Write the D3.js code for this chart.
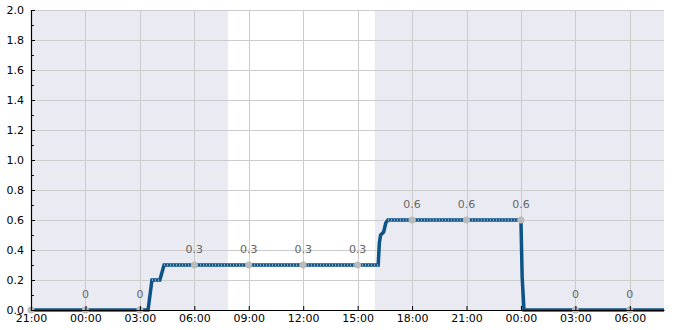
<!DOCTYPE html>
<html>
<head>
<meta charset="utf-8">
<script src="https://cdn.jsdelivr.net/npm/d3@7"></script>
<style>
  body { margin: 0; background: #fff; }
  text { font-family: "DejaVu Sans", sans-serif; }
</style>
</head>
<body>
<div id="chart"></div>
<script>
// time window of the chart
let startTime = "2024-01-01 21:00"
let endTime = "2024-01-03 07:53"

// night shading (grey) bands
let nightStart = ["2024-01-01 21:00", "2024-01-02 15:57"]
let nightEnd = ["2024-01-02 07:51", "2024-01-03 07:53"]

// the stepped series
let seriesTime = [
  "2024-01-01 21:00", "2024-01-02 03:27", "2024-01-02 03:40", "2024-01-02 04:06",
  "2024-01-02 04:20", "2024-01-02 16:08", "2024-01-02 16:12", "2024-01-02 16:16",
  "2024-01-02 16:26", "2024-01-02 16:33", "2024-01-02 16:40", "2024-01-03 00:00",
  "2024-01-03 00:04", "2024-01-03 00:10", "2024-01-03 07:53"
]
let seriesValue = [0, 0, 0.2, 0.2, 0.3, 0.3, 0.45, 0.5, 0.52, 0.58, 0.6, 0.6, 0.22, 0, 0]

// 3-hourly markers and their labels
let markerTime = [
  "2024-01-01 21:00", "2024-01-02 00:00", "2024-01-02 03:00", "2024-01-02 06:00",
  "2024-01-02 09:00", "2024-01-02 12:00", "2024-01-02 15:00", "2024-01-02 18:00",
  "2024-01-02 21:00", "2024-01-03 00:00", "2024-01-03 03:00", "2024-01-03 06:00"
]
let markerValue = [0, 0, 0, 0.3, 0.3, 0.3, 0.3, 0.6, 0.6, 0.6, 0, 0]
let markerLabel = ["", "0", "0", "0.3", "0.3", "0.3", "0.3", "0.6", "0.6", "0.6", "0", "0"]

let yTicks = [0, 0.2, 0.4, 0.6, 0.8, 1.0, 1.2, 1.4, 1.6, 1.8, 2.0]

let parse = d3.timeParse("%Y-%m-%d %H:%M")

let margin = {top: 10, right: 21, bottom: 20, left: 31},
    width = 685 - margin.left - margin.right,
    height = 330 - margin.top - margin.bottom

let svg = d3.select("#chart")
  .append("svg")
    .attr("width", 685)
    .attr("height", 330)
  .append("g")
    .attr("transform", "translate(" + margin.left + "," + margin.top + ")")

let x = d3.scaleTime()
  .domain([parse(startTime), parse(endTime)])
  .range([0, width])

let y = d3.scaleLinear()
  .domain([0, 2])
  .range([height, 0])

// night bands
svg.selectAll(".night")
  .data(nightStart)
  .enter()
  .append("rect")
  .attr("x", function(d) { return x(parse(d)) })
  .attr("width", function(d, i) { return x(parse(nightEnd[i])) - x(parse(d)) })
  .attr("y", 0)
  .attr("height", height)
  .attr("fill", "#eaeaf2")

// grid
let xTicks = x.ticks(d3.timeHour.every(3))
svg.selectAll(".vgrid")
  .data(xTicks)
  .enter()
  .append("line")
  .attr("x1", function(d) { return Math.round(x(d)) + 0.5 })
  .attr("x2", function(d) { return Math.round(x(d)) + 0.5 })
  .attr("y1", 0)
  .attr("y2", height)
  .attr("stroke", "#cccccc")
  .attr("stroke-width", 1)

svg.selectAll(".hgrid")
  .data(yTicks)
  .enter()
  .append("line")
  .attr("x1", 0)
  .attr("x2", width)
  .attr("y1", function(d) { return Math.round(y(d)) + 0.5 })
  .attr("y2", function(d) { return Math.round(y(d)) + 0.5 })
  .attr("stroke", "#cccccc")
  .attr("stroke-width", 1)

// series line
let points = seriesTime.map(function(t, i) { return {x: parse(t), y: seriesValue[i]} })
let line = d3.line()
  .x(function(d) { return x(d.x) })
  .y(function(d) { return y(d.y) })

svg.append("path")
  .datum(points)
  .attr("fill", "none")
  .attr("stroke", "#0d5486")
  .attr("stroke-width", 3.5)
  .attr("d", line)

// white dots along the flat non-zero stretches
let flats = []
for (let i = 1; i < points.length; i++) {
  if (points[i].y == points[i-1].y && points[i].y > 0) {
    flats.push([points[i-1], points[i]])
  }
}
svg.selectAll(".dots")
  .data(flats)
  .enter()
  .append("path")
  .attr("fill", "none")
  .attr("stroke", "#ffffff")
  .attr("stroke-width", 1)
  .attr("stroke-dasharray", "1,2")
  .attr("d", line)

// grey markers
svg.selectAll(".marker")
  .data(markerTime)
  .enter()
  .append("circle")
  .attr("cx", function(d) { return x(parse(d)) })
  .attr("cy", function(d, i) { return y(markerValue[i]) })
  .attr("r", 3.5)
  .attr("fill", "#bbbbbb")

svg.selectAll(".mlabel")
  .data(markerTime)
  .enter()
  .append("text")
  .attr("x", function(d) { return x(parse(d)) })
  .attr("y", function(d, i) { return y(markerValue[i]) - 12 })
  .attr("text-anchor", "middle")
  .attr("font-size", "11px")
  .attr("fill", "#666666")
  .text(function(d, i) { return markerLabel[i] })

// axes
let yAxis = svg.append("g")
  .call(d3.axisLeft(y).tickValues(yTicks).tickFormat(d3.format(".1f")).tickSizeInner(-4).tickSizeOuter(0).tickPadding(7))
let yMinor = svg.append("g")
  .call(d3.axisLeft(y).tickValues(d3.range(0.1, 2, 0.2)).tickFormat("").tickSizeInner(-3).tickSizeOuter(0))
yMinor.select(".domain").remove()

let xAxis = svg.append("g")
  .attr("transform", "translate(0," + height + ")")
  .call(d3.axisBottom(x).tickValues(xTicks).tickFormat(d3.timeFormat("%H:%M")).tickSizeInner(-4).tickSizeOuter(0).tickPadding(4))

svg.selectAll(".domain").attr("stroke", "#000").attr("stroke-width", 1.2)
svg.selectAll(".tick line").attr("stroke", "#000")
svg.selectAll(".tick text").attr("font-size", "11px").attr("fill", "#000").attr("font-family", "DejaVu Sans")
</script>
</body>
</html>
